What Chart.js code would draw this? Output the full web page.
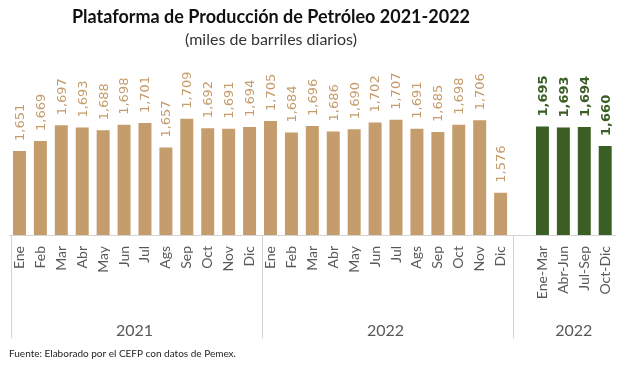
<!DOCTYPE html>
<html>
<head>
<meta charset="utf-8">
<script src="https://cdn.jsdelivr.net/npm/chart.js@4"></script>
<style>
  html, body { margin: 0; padding: 0; background: #fff; }
  #wrap { position: relative; width: 625px; height: 367px; }
</style>
</head>
<body>
<div id="wrap"><canvas id="petroleoChart"></canvas></div>
<script>
// categorias: 12 meses 2021, 12 meses 2022, hueco, 4 trimestres 2022
var meses = ['Ene', 'Feb', 'Mar', 'Abr', 'May', 'Jun', 'Jul', 'Ags', 'Sep', 'Oct', 'Nov', 'Dic'];
var trimestres = ['Ene-Mar', 'Abr-Jun', 'Jul-Sep', 'Oct-Dic'];
var valores2021 = [1651, 1669, 1697, 1693, 1688, 1698, 1701, 1657, 1709, 1692, 1691, 1694];
var valores2022 = [1705, 1684, 1696, 1686, 1690, 1702, 1707, 1691, 1685, 1698, 1706, 1576];
var valoresTrim = [1695, 1693, 1694, 1660];
var grupos = [
  { label: '2021', from: 0, to: 11 },
  { label: '2022', from: 12, to: 23 },
  { label: '2022', from: 25, to: 28 }
];

var labels = meses.concat(meses, [''], trimestres);
var serieMensual = valores2021.concat(valores2022, [null, null, null, null, null]);
var serieTrim = [];
for (var i = 0; i < 25; i++) serieTrim.push(null);
serieTrim = serieTrim.concat(valoresTrim);

var TAN = '#c59c6b';
var GREEN = '#3b5e24';

// etiquetas de valor verticales
var valueLabels = {
  id: 'valueLabels',
  afterDatasetsDraw: function (chart) {
    var ctx = chart.ctx;
    chart.data.datasets.forEach(function (ds, di) {
      var meta = chart.getDatasetMeta(di);
      meta.data.forEach(function (bar, i) {
        var v = ds.data[i];
        if (v === null || v === undefined) return;
        ctx.save();
        ctx.translate(bar.x, bar.y - 10);
        ctx.rotate(-Math.PI / 2);
        ctx.fillStyle = ds.labelColor;
        ctx.font = ds.labelFont;
        ctx.textAlign = 'left';
        ctx.textBaseline = 'middle';
        ctx.fillText(v.toLocaleString('en-US'), 0, 1);
        ctx.restore();
      });
    });
  }
};

// titulo (un poco a la izquierda del centro, como el original)
var titulos = {
  id: 'titulos',
  afterDraw: function (chart) {
    var ctx = chart.ctx;
    ctx.save();
    ctx.textAlign = 'center';
    ctx.textBaseline = 'middle';
    ctx.fillStyle = '#111';
    ctx.font = 'bold 18px Lato';
    ctx.fillText('Plataforma de Producción de Petróleo 2021-2022', 271, 17);
    ctx.fillStyle = '#333';
    ctx.font = '16px Lato';
    ctx.fillText('(miles de barriles diarios)', 271, 40);
    ctx.restore();
  }
};

// separadores y etiquetas de año bajo el eje
var yearGroups = {
  id: 'yearGroups',
  afterDraw: function (chart) {
    var ctx = chart.ctx;
    var x = chart.scales.x;
    var top = chart.chartArea.bottom;
    var half = (x.getPixelForValue(1) - x.getPixelForValue(0)) / 2;
    ctx.save();
    ctx.strokeStyle = '#d4d4d4';
    ctx.lineWidth = 1;
    var bounds = [0, 12, 24];
    bounds.forEach(function (b) {
      var px = Math.round(x.getPixelForValue(b) - half) + 2.5;
      ctx.beginPath();
      ctx.moveTo(px, top);
      ctx.lineTo(px, 338);
      ctx.stroke();
    });
    ctx.fillStyle = '#595959';
    ctx.font = '16px Lato';
    ctx.textAlign = 'center';
    ctx.textBaseline = 'middle';
    grupos.forEach(function (g) {
      var cx = (x.getPixelForValue(g.from) + x.getPixelForValue(g.to)) / 2;
      ctx.fillText(g.label, cx, 331);
    });
    ctx.font = '10px Lato';
    ctx.fillStyle = '#222';
    ctx.textAlign = 'left';
    ctx.fillText('Fuente: Elaborado por el CEFP con datos de Pemex.', 9, 354);
    ctx.restore();
  }
};

new Chart(document.getElementById('petroleoChart'), {
  type: 'bar',
  data: {
    labels: labels,
    datasets: [
      {
        label: 'Mensual',
        data: serieMensual,
        backgroundColor: TAN,
        labelColor: TAN,
        labelFont: '13px "DejaVu Sans"',
        grouped: false,
        categoryPercentage: 1,
        barPercentage: 0.62
      },
      {
        label: 'Trimestral',
        data: serieTrim,
        backgroundColor: GREEN,
        labelColor: GREEN,
        labelFont: 'bold 13px "DejaVu Sans"',
        grouped: false,
        categoryPercentage: 1,
        barPercentage: 0.62
      }
    ]
  },
  options: {
    responsive: true,
    maintainAspectRatio: false,
    animation: false,
    layout: { padding: { left: 9, right: 0, top: 58, bottom: 0 } },
    plugins: {
      legend: { display: false },
      tooltip: { enabled: false },
      title: { display: false }
    },
    scales: {
      y: {
        display: false,
        min: 1500,
        max: 1818
      },
      x: {
        grid: { display: false },
        border: { display: true, color: '#d4d4d4' },
        ticks: {
          color: '#595959',
          font: { family: 'Lato', size: 14 },
          maxRotation: 90,
          minRotation: 90,
          autoSkip: false,
          padding: 3
        },
        afterFit: function (s) { s.height = 132; }
      }
    }
  },
  plugins: [valueLabels, titulos, yearGroups]
});
</script>
</body>
</html>
